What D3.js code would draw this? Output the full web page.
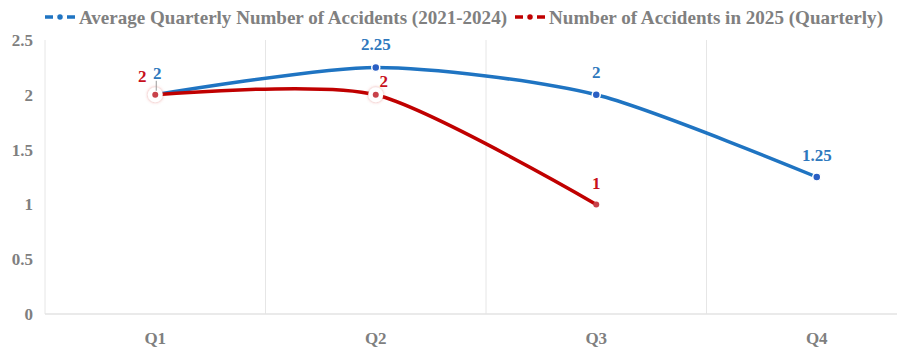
<!DOCTYPE html>
<html>
<head>
<meta charset="utf-8">
<script src="https://cdn.jsdelivr.net/npm/d3@7"></script>
<style>
  body { margin: 0; background: #fff; }
  text { font-family: "Liberation Serif", "Times New Roman", serif; font-weight: bold; }
</style>
</head>
<body>
<div id="chart"></div>
<script>
// chart data
const quarters = ["Q1", "Q2", "Q3", "Q4"];
const avgAccidents = [2, 2.25, 2, 1.25];
const accidents2025 = [2, 2, 1];
const yTicks = [0, 0.5, 1, 1.5, 2, 2.5];
const seriesNames = ["Average Quarterly Number of Accidents (2021-2024)", "Number of Accidents in 2025 (Quarterly)"];

const width = 897, height = 349;
const blue = "#1f74c2", red = "#c00000";
const blueText = "#2e78bd", redText = "#c8101c";

const svg = d3.select("#chart").append("svg")
  .attr("width", width)
  .attr("height", height);

// plot runs past the right edge like in the original
const x = d3.scaleBand().domain(quarters).range([45, 927]);
const y = d3.scaleLinear().domain([0, 2.5]).range([314, 40]);
const cx = q => x(q) + x.bandwidth() / 2;

// vertical grid lines at band edges
svg.append("g")
  .selectAll("line")
  .data(quarters)
  .enter().append("line")
  .attr("x1", d => x(d)).attr("x2", d => x(d))
  .attr("y1", y(2.5)).attr("y2", y(0))
  .attr("stroke", "#e6e6e6");

// bottom axis line
svg.append("line")
  .attr("x1", 45).attr("x2", width)
  .attr("y1", y(0)).attr("y2", y(0))
  .attr("stroke", "#e3e3e3").attr("stroke-width", 1.5);

// y labels
svg.append("g")
  .selectAll("text")
  .data(yTicks)
  .enter().append("text")
  .attr("x", 33)
  .attr("y", d => y(d))
  .attr("dy", "0.35em")
  .attr("text-anchor", "end")
  .attr("font-size", 17)
  .attr("fill", "#7f7f7f")
  .text(d => d);

// x labels
svg.append("g")
  .selectAll("text")
  .data(quarters)
  .enter().append("text")
  .attr("x", d => cx(d))
  .attr("y", 338)
  .attr("dy", "0.35em")
  .attr("text-anchor", "middle")
  .attr("font-size", 17)
  .attr("fill", "#7f7f7f")
  .text(d => d);

const line = d3.line()
  .x(d => cx(d.q))
  .y(d => y(d.v))
  .curve(d3.curveCardinal.tension(0.25));

const blueData = avgAccidents.map((v, i) => ({ q: quarters[i], v: v }));
const redData = accidents2025.map((v, i) => ({ q: quarters[i], v: v }));

svg.append("path")
  .datum(blueData)
  .attr("d", line)
  .attr("fill", "none")
  .attr("stroke", blue)
  .attr("stroke-width", 3.5);

svg.append("g")
  .selectAll("circle")
  .data(blueData)
  .enter().append("circle")
  .attr("cx", d => cx(d.q))
  .attr("cy", d => y(d.v))
  .attr("r", 4)
  .attr("fill", "#2a5fc4")
  .attr("stroke", "#fff")
  .attr("stroke-width", 1.5);

svg.append("path")
  .datum(redData)
  .attr("d", line)
  .attr("fill", "none")
  .attr("stroke", red)
  .attr("stroke-width", 3.5);

// white halos on the first two red points
const defs = svg.append("defs");
const shadow = defs.append("filter").attr("id", "halo").attr("x", "-50%").attr("y", "-50%").attr("width", "200%").attr("height", "200%");
shadow.append("feDropShadow").attr("dx", 0).attr("dy", 0).attr("stdDeviation", 1.5).attr("flood-color", "#d9534f").attr("flood-opacity", 0.6);

svg.append("g")
  .selectAll("circle")
  .data(redData.slice(0, 2))
  .enter().append("circle")
  .attr("cx", d => cx(d.q))
  .attr("cy", d => y(d.v))
  .attr("r", 7.5)
  .attr("fill", "#fff")
  .attr("filter", "url(#halo)");

svg.append("g")
  .selectAll("circle")
  .data(redData)
  .enter().append("circle")
  .attr("cx", d => cx(d.q))
  .attr("cy", d => y(d.v))
  .attr("r", 3)
  .attr("fill", "#c8424a");

// leader line for the Q1 red label
svg.append("line")
  .attr("x1", cx("Q1") + 1).attr("x2", cx("Q1") + 1)
  .attr("y1", y(2) - 14).attr("y2", y(2) - 4)
  .attr("stroke", "#999").attr("stroke-width", 1);

// data labels
const blueOffsets = [[2, -22], [0, -23], [0, -23], [0, -22]];
svg.append("g")
  .selectAll("text")
  .data(blueData)
  .enter().append("text")
  .attr("x", (d, i) => cx(d.q) + blueOffsets[i][0])
  .attr("y", (d, i) => y(d.v) + blueOffsets[i][1])
  .attr("dy", "0.35em")
  .attr("text-anchor", "middle")
  .attr("font-size", 17)
  .attr("fill", blueText)
  .text(d => d.v);

const redOffsets = [[-13, -19], [8, -14], [0, -21]];
svg.append("g")
  .selectAll("text")
  .data(redData)
  .enter().append("text")
  .attr("x", (d, i) => cx(d.q) + redOffsets[i][0])
  .attr("y", (d, i) => y(d.v) + redOffsets[i][1])
  .attr("dy", "0.35em")
  .attr("text-anchor", "middle")
  .attr("font-size", 17)
  .attr("fill", redText)
  .text(d => d.v);

// legend
const legendX = [45, 515];
const legendLen = [428, 334];
const legendColors = [blue, red];
const legend = svg.append("g")
  .selectAll("g")
  .data(seriesNames)
  .enter().append("g")
  .attr("transform", (d, i) => "translate(" + legendX[i] + ",17)");

legend.append("line")
  .attr("x1", 0).attr("x2", 30)
  .attr("stroke", (d, i) => legendColors[i])
  .attr("stroke-width", 3.5)
  .attr("stroke-dasharray", "8,3");
legend.append("circle")
  .attr("cx", 15).attr("r", 3.5)
  .attr("fill", (d, i) => legendColors[i])
  .attr("stroke", "#fff").attr("stroke-width", 1.5);
legend.append("text")
  .attr("x", 34)
  .attr("dy", "0.35em")
  .attr("font-size", 19)
  .attr("fill", "#808080")
  .attr("textLength", (d, i) => legendLen[i])
  .attr("lengthAdjust", "spacingAndGlyphs")
  .text(d => d);
</script>
</body>
</html>
